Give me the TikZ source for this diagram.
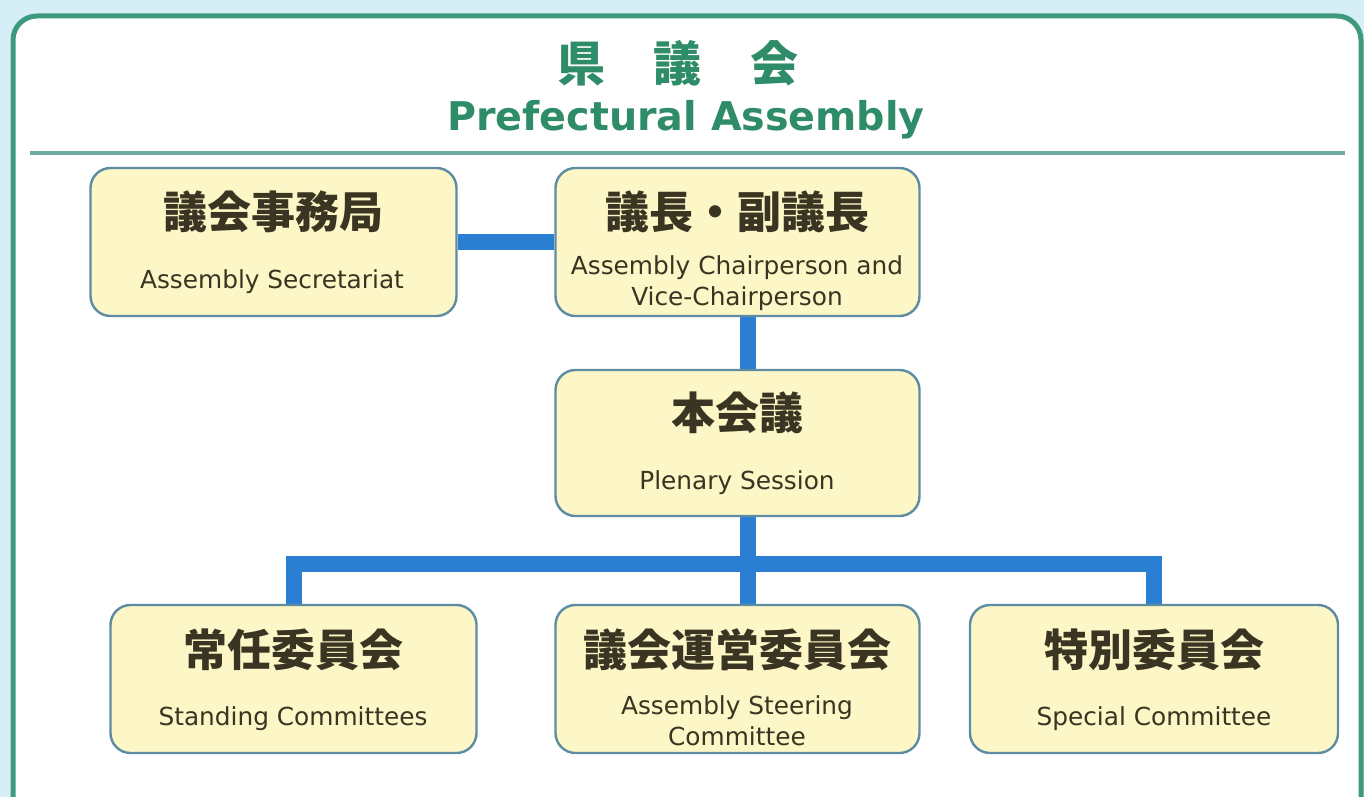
\documentclass[tikz,border=0pt]{standalone}
\usepackage{fontspec}
\setmainfont{DejaVu Sans}
\newfontfamily\jp{Noto Sans CJK JP}
\usetikzlibrary{backgrounds}
\definecolor{bgblue}{HTML}{D6EEF5}
\definecolor{framegreen}{HTML}{3E9A7E}
\definecolor{rulecol}{HTML}{6FA9A2}
\definecolor{titlegreen}{HTML}{2E8C68}
\definecolor{boxfill}{HTML}{FDF6C6}
\definecolor{boxline}{HTML}{5E8DA3}
\definecolor{conncol}{HTML}{2B7FD3}
\definecolor{txt}{HTML}{3A3422}
\pgfdeclarelayer{bg}
\pgfdeclarelayer{conn}
\pgfsetlayers{bg,conn,main}
\tikzset{
  orgbox/.style={draw=boxline, line width=1.2pt, fill=boxfill, rounded corners=10pt,
    minimum width=182pt, minimum height=74pt, inner sep=0pt},
  jplabel/.style={font=\jp\bfseries\fontsize{22}{25}\selectfont, text=txt, inner sep=0pt},
  enlabel/.style={font=\fontsize{12.4}{15.5}\selectfont, text=txt, inner sep=0pt, align=center},
  conn/.style={draw=conncol, line width=8pt, line join=miter}
}
\begin{document}
\begin{tikzpicture}[x=0.5pt, y=-0.5pt]
\useasboundingbox (0,0) rectangle (1364,797);
\begin{pgfonlayer}{bg}
  \fill[bgblue] (0,0) rectangle (1364,797);
  \draw[framegreen, line width=2.5pt, fill=white, rounded corners=12pt] (13,16) rectangle (1361,830);
  \draw[rulecol, line width=1.6pt] (30,153) -- (1345,153);
\end{pgfonlayer}
% title
\node[font=\jp\bfseries\fontsize{24}{28}\selectfont, text=titlegreen, inner sep=0pt] (ttl) at (678,63) {県\hspace{24.5pt}議\hspace{24.5pt}会};
\node[font=\bfseries\fontsize{19.8}{25}\selectfont, text=titlegreen, inner sep=0pt] (ttlen) at (686,120) {Prefectural Assembly};
% boxes
\node[orgbox, minimum width=183pt] (sec) at (273.5,242) {};
\node[orgbox] (chair) at (737.5,242) {};
\node[orgbox, minimum height=73pt] (plen) at (737.5,443) {};
\node[orgbox, minimum width=183pt] (stand) at (293.5,679) {};
\node[orgbox] (steer) at (737.5,679) {};
\node[orgbox, minimum width=184pt] (spec) at (1154,679) {};
% labels
\node[jplabel] (secj) at (273,212) {議会事務局};
\node[enlabel] (sece) at (272,282) {Assembly Secretariat};
\node[jplabel] (chairj) at (737,212) {議長・副議長};
\node[enlabel] (chaire) at (737,283) {Assembly Chairperson and\\Vice-Chairperson};
\node[jplabel] (plenj) at (737,413) {本会議};
\node[enlabel] (plene) at (737,483) {Plenary Session};
\node[jplabel] (standj) at (293,650) {常任委員会};
\node[enlabel] (stande) at (293,719) {Standing Committees};
\node[jplabel] (steerj) at (737,650) {議会運営委員会};
\node[enlabel] (steere) at (737,721) {Assembly Steering\\Committee};
\node[jplabel] (specj) at (1154,650) {特別委員会};
\node[enlabel] (spece) at (1154,719) {Special Committee};
% connectors
\coordinate (spine) at (748,0);
\coordinate (bus) at (0,564);
\begin{pgfonlayer}{conn}
  \draw[conn] (sec.east) -- (chair.west);
  \draw[conn] (chair.south -| spine) -- (plen.north -| spine);
  \draw[conn] (plen.south -| spine) -- (steer.north -| spine);
  \draw[conn] (stand.north) -- (stand.north |- bus) -- (spec.north |- bus) -- (spec.north);
\end{pgfonlayer}
\end{tikzpicture}
\end{document}
